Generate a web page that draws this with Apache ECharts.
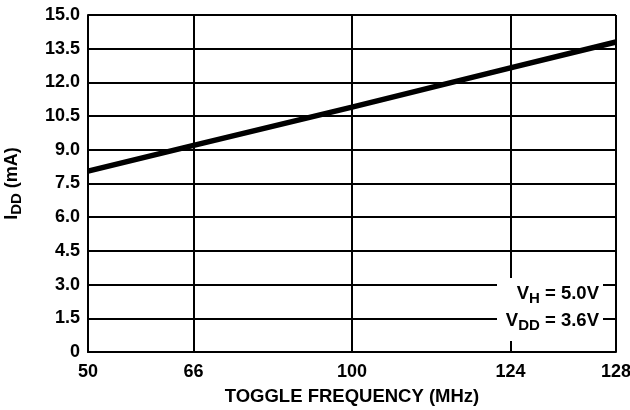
<!DOCTYPE html>
<html>
<head>
<meta charset="utf-8">
<script src="https://cdn.jsdelivr.net/npm/echarts@6/dist/echarts.min.js"></script>
<style>html,body{margin:0;padding:0;background:#fff;}#c{width:630px;height:410px;}</style>
</head>
<body>
<div id="c"></div>
<script>
// Tick labels of the (non-uniform) frequency axis and their relative axis positions
const freqTicks = [50, 66, 100, 124, 128];
const freqTickPos = [0, 2, 5, 8, 10];
const yTicks = [0, 1.5, 3.0, 4.5, 6.0, 7.5, 9.0, 10.5, 12.0, 13.5, 15.0];
// Series: supply current vs toggle frequency
const freqMHz = [50, 66, 100, 124, 128];
const iddMA = [8.05, 9.2, 10.9, 12.65, 13.8];

function freqToPos(f) {
  for (let i = 0; i < freqTicks.length - 1; i++) {
    const a = freqTicks[i], b = freqTicks[i + 1];
    if (f >= a && f <= b) {
      return freqTickPos[i] + (f - a) / (b - a) * (freqTickPos[i + 1] - freqTickPos[i]);
    }
  }
  return f < freqTicks[0] ? freqTickPos[0] : freqTickPos[freqTickPos.length - 1];
}
function posToLabel(p) {
  const i = freqTickPos.indexOf(p);
  return i >= 0 ? String(freqTicks[i]) : '';
}

const FONT = '"Liberation Sans", Arial, Helvetica, sans-serif';
const chart = echarts.init(document.getElementById('c'), null, {renderer: 'canvas'});
chart.setOption({
  animation: false,
  backgroundColor: '#fff',
  grid: {left: 88, right: 14, top: 15, bottom: 58, show: false, containLabel: false, outerBoundsMode: 'none'},
  xAxis: {
    type: 'value', min: freqTickPos[0], max: freqTickPos[freqTickPos.length - 1],
    name: 'TOGGLE FREQUENCY (MHz)', nameLocation: 'middle', nameGap: 35,
    nameTextStyle: {fontFamily: FONT, fontWeight: 'bold', fontSize: 18.5, color: '#000'},
    axisLine: {show: true, lineStyle: {color: '#000', width: 2}},
    axisTick: {show: false, customValues: freqTickPos},
    axisLabel: {customValues: freqTickPos, formatter: posToLabel, margin: 11,
      fontFamily: FONT, fontWeight: 'bold', fontSize: 18, color: '#000'},
    splitLine: {show: true, lineStyle: {color: '#000', width: 2}}
  },
  yAxis: {
    type: 'value', min: yTicks[0], max: yTicks[yTicks.length - 1], interval: 1.5,
    name: '{a|I}{b|DD}{a| (mA)}', nameLocation: 'middle', nameGap: 64, nameRotate: 90,
    nameTextStyle: {rich: {
      a: {fontFamily: FONT, fontWeight: 'bold', fontSize: 18, color: '#000', lineHeight: 24, verticalAlign: 'middle'},
      b: {fontFamily: FONT, fontWeight: 'bold', fontSize: 15, color: '#000', lineHeight: 13, verticalAlign: 'bottom'}
    }},
    axisLine: {show: true, lineStyle: {color: '#000', width: 2}},
    axisTick: {show: false},
    axisLabel: {margin: 8, fontFamily: FONT, fontWeight: 'bold', fontSize: 18, color: '#000',
      formatter: v => (v === 0 ? '0' : v.toFixed(1))},
    splitLine: {show: true, lineStyle: {color: '#000', width: 2}}
  },
  series: [{
    type: 'line',
    data: freqMHz.map((f, i) => [freqToPos(f), iddMA[i]]),
    symbol: 'none',
    clip: false,
    lineStyle: {color: '#000', width: 5.5},
    z: 5
  }],
  graphic: [
    {type: 'rect', shape: {x: 497, y: 278, width: 106, height: 63}, style: {fill: '#fff'}, z: 50},
    {type: 'text', x: 599, y: 294, z: 51, style: {
      text: '{v|V}{s|H}{v| = 5.0V}', align: 'right', verticalAlign: 'middle',
      rich: {
        v: {fontFamily: FONT, fontWeight: 'bold', fontSize: 18.5, fill: '#000', lineHeight: 24, verticalAlign: 'middle'},
        s: {fontFamily: FONT, fontWeight: 'bold', fontSize: 15, fill: '#000', lineHeight: 12, verticalAlign: 'bottom'}
      }}},
    {type: 'text', x: 599, y: 321, z: 51, style: {
      text: '{v|V}{s|DD}{v| = 3.6V}', align: 'right', verticalAlign: 'middle',
      rich: {
        v: {fontFamily: FONT, fontWeight: 'bold', fontSize: 18.5, fill: '#000', lineHeight: 24, verticalAlign: 'middle'},
        s: {fontFamily: FONT, fontWeight: 'bold', fontSize: 15, fill: '#000', lineHeight: 12, verticalAlign: 'bottom'}
      }}}
  ]
});
</script>
</body>
</html>
